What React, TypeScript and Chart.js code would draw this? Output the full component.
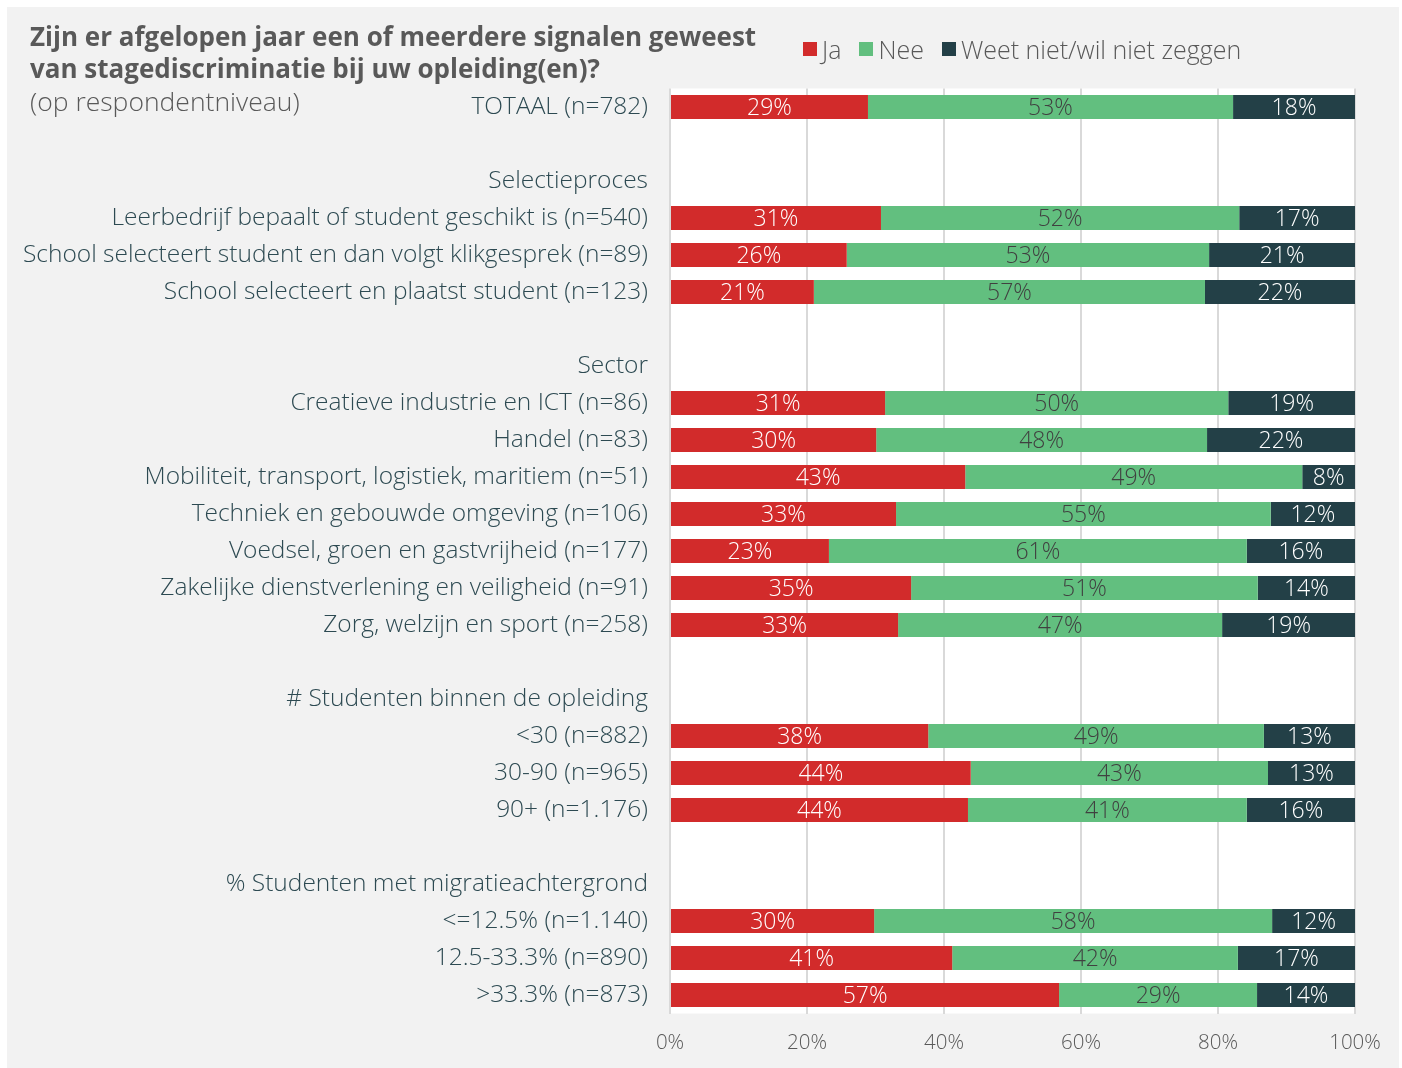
import React, { useEffect, useRef } from "react";
import { Chart, registerables } from "chart.js";

Chart.register(...registerables);

const categories: string[] = [
  "TOTAAL (n=782)",
  "",
  "Selectieproces",
  "Leerbedrijf bepaalt of student geschikt is (n=540)",
  "School selecteert student en dan volgt klikgesprek (n=89)",
  "School selecteert en plaatst student (n=123)",
  "",
  "Sector",
  "Creatieve industrie en ICT (n=86)",
  "Handel (n=83)",
  "Mobiliteit, transport, logistiek, maritiem (n=51)",
  "Techniek en gebouwde omgeving (n=106)",
  "Voedsel, groen en gastvrijheid (n=177)",
  "Zakelijke dienstverlening en veiligheid (n=91)",
  "Zorg, welzijn en sport (n=258)",
  "",
  "# Studenten binnen de opleiding",
  "<30 (n=882)",
  "30-90 (n=965)",
  "90+ (n=1.176)",
  "",
  "% Studenten met migratieachtergrond",
  "<=12.5% (n=1.140)",
  "12.5-33.3% (n=890)",
  ">33.3% (n=873)",
];

const jaValues: (number | null)[] = [
  28.9, null, null, 30.8, 25.8, 21.0, null, null, 31.4, 30.1, 43.1, 33.0, 23.2, 35.2, 33.3,
  null, null, 37.7, 43.9, 43.5, null, null, 29.8, 41.2, 56.8,
];
const neeValues: (number | null)[] = [
  53.3, null, null, 52.3, 52.9, 57.1, null, null, 50.1, 48.3, 49.2, 54.7, 61.0, 50.6, 47.3,
  null, null, 49.0, 43.4, 40.7, null, null, 58.1, 41.7, 28.9,
];
const weetNietValues: (number | null)[] = [
  17.8, null, null, 16.9, 21.3, 21.9, null, null, 18.5, 21.6, 7.7, 12.3, 15.8, 14.2, 19.4,
  null, null, 13.3, 12.7, 15.8, null, null, 12.1, 17.1, 14.3,
];

const seriesNames: string[] = ["Ja", "Nee", "Weet niet/wil niet zeggen"];
const seriesColors: string[] = ["#d22b2b", "#62bf7f", "#234047"];
const labelColors: string[] = ["#ffffff", "#404040", "#ffffff"];

const xTicks: number[] = [0, 20, 40, 60, 80, 100];

const FONT = "'Open Sans', Lato, sans-serif";

const PANEL_W = 1392;
const PANEL_H = 1061;

export default function App() {
  const canvasRef = useRef<HTMLCanvasElement | null>(null);

  useEffect(() => {
    if (!canvasRef.current) return;

    const areaBg = {
      id: "areaBg",
      beforeDraw(chart: any) {
        const { ctx, chartArea } = chart;
        ctx.save();
        ctx.fillStyle = "#ffffff";
        ctx.fillRect(chartArea.left, chartArea.top, chartArea.right - chartArea.left, chartArea.bottom - chartArea.top);
        ctx.restore();
      },
    };

    const barLabels = {
      id: "barLabels",
      afterDatasetsDraw(chart: any) {
        const { ctx } = chart;
        ctx.save();
        ctx.font = `300 23px ${FONT}`;
        ctx.textAlign = "center";
        ctx.textBaseline = "middle";
        chart.data.datasets.forEach((ds: any, di: number) => {
          const meta = chart.getDatasetMeta(di);
          meta.data.forEach((el: any, i: number) => {
            const v = ds.data[i];
            if (v === null || v === undefined) return;
            const p = el.getProps(["x", "y", "base"], true);
            ctx.fillStyle = labelColors[di];
            ctx.fillText(Math.round(v) + "%", (p.x + p.base) / 2, p.y + 1);
          });
        });
        ctx.restore();
      },
    };

    const datasets = [jaValues, neeValues, weetNietValues].map((d, i) => ({
      label: seriesNames[i],
      data: d,
      backgroundColor: seriesColors[i],
      borderWidth: 0,
      categoryPercentage: 1,
      barPercentage: 0.65,
    }));

    const chart = new Chart(canvasRef.current, {
      type: "bar",
      data: { labels: categories, datasets },
      options: {
        indexAxis: "y",
        animation: false,
        responsive: false,
        maintainAspectRatio: false,
        layout: { padding: { top: 81.5, right: 44, left: 0, bottom: 0 } },
        plugins: {
          legend: { display: false },
          tooltip: { enabled: false },
          title: { display: false },
        },
        scales: {
          x: {
            stacked: true,
            min: 0,
            max: 100,
            afterBuildTicks(scale: any) {
              scale.ticks = xTicks.map((v) => ({ value: v }));
            },
            afterFit(scale: any) {
              scale.height = 54.5;
            },
            grid: { color: "#d9d9d9", lineWidth: 2, drawTicks: false },
            border: { display: false },
            ticks: {
              padding: 17,
              color: "#595959",
              font: { family: FONT, size: 20.5, weight: "300" as any },
              callback: (v: any) => v + "%",
            },
          },
          y: {
            stacked: true,
            afterFit(scale: any) {
              scale.width = 663;
            },
            grid: { display: false, drawTicks: false },
            border: { display: false },
            ticks: {
              padding: 22,
              autoSkip: false,
              color: "#2d4a52",
              font: { family: FONT, size: 24.5, weight: "300" as any },
            },
          },
        },
      },
      plugins: [areaBg, barLabels],
    });

    return () => chart.destroy();
  }, []);

  return (
    <div
      style={{
        position: "absolute",
        left: 7,
        top: 7,
        width: PANEL_W,
        height: PANEL_H,
        background: "#f2f2f2",
        fontFamily: FONT,
      }}
    >
      <canvas ref={canvasRef} width={PANEL_W} height={PANEL_H} style={{ display: "block", width: PANEL_W, height: PANEL_H }} />
      <div
        style={{
          position: "absolute",
          left: 23,
          top: 13,
          fontSize: 26,
          lineHeight: "32px",
          fontWeight: 700,
          color: "#595959",
          whiteSpace: "nowrap",
        }}
      >
        Zijn er afgelopen jaar een of meerdere signalen geweest
        <br />
        van stagediscriminatie bij uw opleiding(en)?
      </div>
      <div
        style={{
          position: "absolute",
          left: 23,
          top: 78,
          fontSize: 26.5,
          lineHeight: "32px",
          fontWeight: 300,
          color: "#595959",
          whiteSpace: "nowrap",
        }}
      >
        (op respondentniveau)
      </div>
      <div
        style={{
          position: "absolute",
          left: 796,
          top: 26,
          height: 32,
          display: "flex",
          alignItems: "center",
          fontSize: 25,
          fontWeight: 300,
          color: "#595959",
          whiteSpace: "nowrap",
        }}
      >
        {seriesNames.map((n, i) => (
          <span key={n} style={{ display: "flex", alignItems: "center", marginRight: 18 }}>
            <span style={{ width: 14, height: 14, background: seriesColors[i], display: "inline-block", marginRight: 5 }} />
            {n}
          </span>
        ))}
      </div>
    </div>
  );
}
